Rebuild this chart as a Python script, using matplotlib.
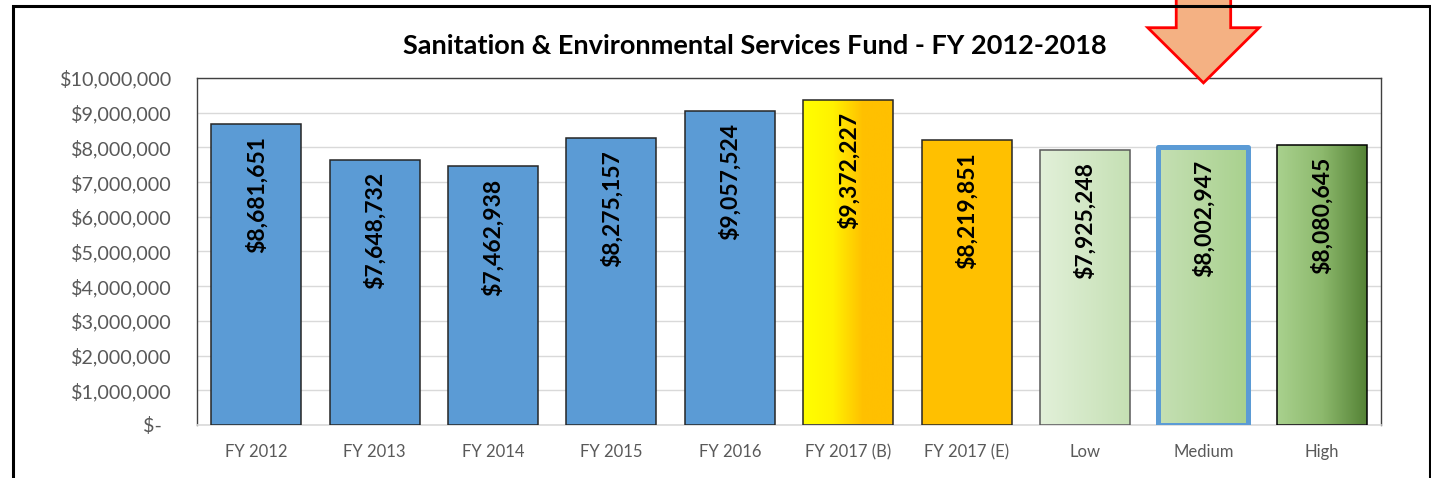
import numpy as np
import matplotlib
matplotlib.use("Agg")
import matplotlib.pyplot as plt
from matplotlib.colors import LinearSegmentedColormap
from matplotlib.patches import Rectangle, Polygon
from matplotlib.ticker import FuncFormatter, MultipleLocator

plt.rcParams['font.family'] = ['Lato', 'DejaVu Sans']

categories = ["FY 2012", "FY 2013", "FY 2014", "FY 2015", "FY 2016",
              "FY 2017 (B)", "FY 2017 (E)", "Low", "Medium", "High"]
values = [8681651, 7648732, 7462938, 8275157, 9057524,
          9372227, 8219851, 7925248, 8002947, 8080645]
title = "Sanitation & Environmental Services Fund - FY 2012-2018"

blue = "#5B9BD5"
fills = [blue, blue, blue, blue, blue,
         ["#FFFF00", "#FFF200", "#FFC000", "#FFC000"],
         "#FFC000",
         ["#E2F0D9", "#C5E0B4"],
         ["#C5E0B4", "#A9D18E"],
         ["#A9D18E", "#8DB96D", "#548235"]]
edges = ["#262626"] * 7 + ["#595959", blue, "#000000"]

fig = plt.figure(figsize=(14.31, 4.78), dpi=100)
ax = fig.add_axes([0.1377, 0.1109, 0.8274, 0.7259])

x = np.arange(len(categories))
bars = ax.bar(x, values, width=0.76, zorder=3)

for i, b in enumerate(bars):
    f = fills[i]
    b.set_edgecolor(edges[i])
    b.set_linewidth(1.1)
    if isinstance(f, list):
        b.set_facecolor("none")
        cmap = LinearSegmentedColormap.from_list("g%d" % i, f)
        grad = np.linspace(0, 1, 256).reshape(1, -1)
        im = ax.imshow(grad, cmap=cmap, aspect="auto", zorder=2.5,
                       extent=[b.get_x(), b.get_x() + b.get_width(), 0, b.get_height()])
        im.set_clip_path(b)
    else:
        b.set_facecolor(f)

# highlighted medium bar
bars[8].set_linewidth(3.6)
bars[8].set_joinstyle("round")

for b, v in zip(bars, values):
    ax.annotate("${:,}".format(v), (b.get_x() + b.get_width() / 2, v),
                xytext=(0, -9), textcoords="offset points",
                rotation=90, ha="center", va="top",
                fontsize=16.5, fontweight="bold", color="black", zorder=5)

ax.set_xlim(-0.5, len(categories) - 0.5)
ax.set_ylim(0, 10000000)
ax.yaxis.set_major_locator(MultipleLocator(1000000))
ax.yaxis.set_major_formatter(FuncFormatter(
    lambda v, p: "$-\u00a0\u00a0" if v == 0 else "${:,.0f}".format(v)))
ax.set_xticks(x)
ax.set_xticklabels(categories)
ax.tick_params(axis="both", length=0, colors="#595959")
ax.tick_params(axis="y", pad=18, labelsize=14.2)
ax.tick_params(axis="x", pad=14, labelsize=12)
ax.grid(axis="y", color="#D9D9D9", linewidth=1, zorder=0)
ax.set_axisbelow(True)
for s in ["left", "top", "right"]:
    ax.spines[s].set_color("#404040")
    ax.spines[s].set_linewidth(1.0)
ax.spines["bottom"].set_color("#D9D9D9")
ax.spines["bottom"].set_linewidth(1.2)

fig.text(0.5275, 0.904, title, ha="center", va="center",
         fontsize=19.5, fontweight="bold", color="black")

# outer chart frame
fig.patches.append(Rectangle((0.0088, -0.05), 0.9905, 1.038, transform=fig.transFigure,
                             fill=False, edgecolor="black", linewidth=2.2, zorder=10))

# down arrow pointing at the medium bar
ax_x = 8
arrow = Polygon([(ax_x - 0.23, 12.6e6), (ax_x + 0.23, 12.6e6), (ax_x + 0.23, 11.45e6),
                 (ax_x + 0.47, 11.45e6), (ax_x, 9.86e6), (ax_x - 0.47, 11.45e6),
                 (ax_x - 0.23, 11.45e6)], closed=True, facecolor="#F4B183",
                edgecolor="#FF0000", linewidth=2, clip_on=False, zorder=11)
ax.add_patch(arrow)

fig.savefig("out.png", dpi=100)
